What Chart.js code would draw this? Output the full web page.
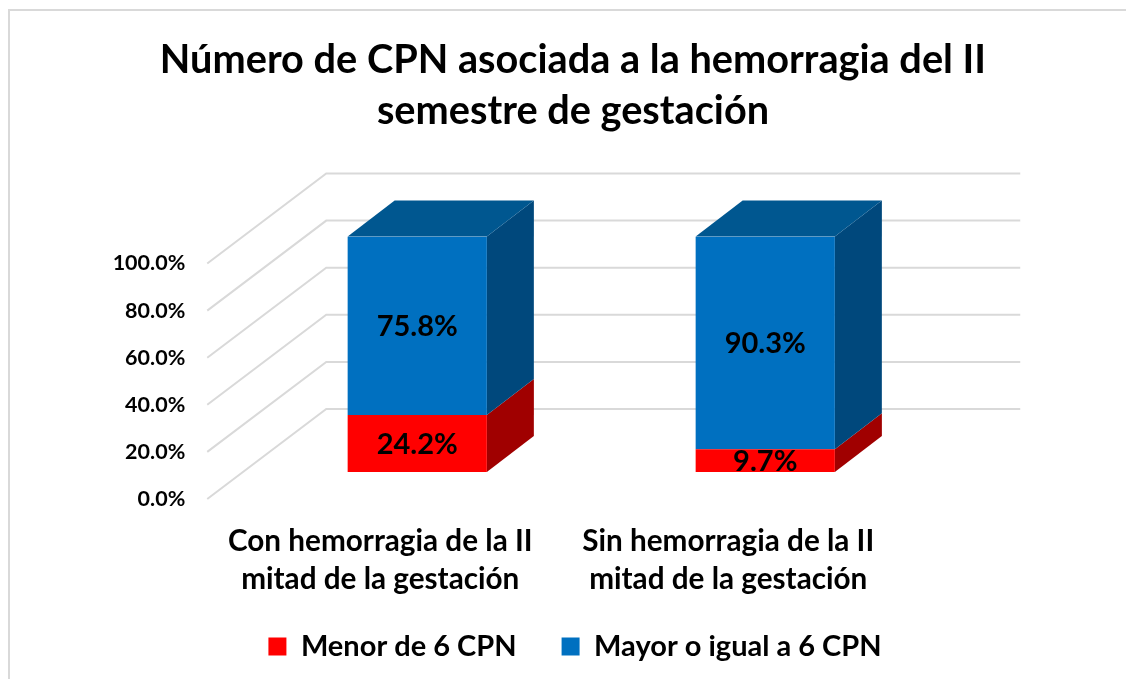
<!DOCTYPE html>
<html>
<head>
<meta charset="utf-8">
<script src="https://cdn.jsdelivr.net/npm/chart.js@4"></script>
<style>
  html, body { margin: 0; background: #fff; overflow: hidden; }
  #frame { position: absolute; left: 8px; top: 9px; right: -4px; bottom: -4px; border: 2px solid #d9d9d9; }
  #wrap { position: absolute; left: 0; top: 0; width: 1126px; height: 679px; }
</style>
</head>
<body>
<div id="frame"></div>
<div id="wrap"><canvas id="chart"></canvas></div>
<script>
// values
const categories = [
  ['Con hemorragia de la II', 'mitad de la gestación'],
  ['Sin hemorragia de la II', 'mitad de la gestación']
];
const menor = [24.2, 9.7];
const mayor = [75.8, 90.3];
const titleLines = ['Número de CPN asociada a la hemorragia del II', 'semestre de gestación'];

const FONT = 'Lato';
const GRID = '#d9d9d9';
// 3D look: how far the bars and the back wall are pushed
const BAR_DX = 47, BAR_DY = 36;
const WALL_DX = 83, WALL_DY = 63;
const FLOOR_DX = 36, FLOOR_DY = 27;

function fmt(v) { return v.toFixed(1) + '%'; }

const shade3d = {
  id: 'shade3d',
  afterLayout(chart) {
    // second line of the x labels runs past the axis box, and the legend sits a bit higher
    chart.scales.x.bottom += 20;
    chart.legend.top -= 8;
    chart.legend.bottom -= 8;
    chart.legend.left += 2;
    chart.legend.right += 2;
  },
  beforeDatasetsDraw(chart) {
    const { ctx, chartArea, scales } = chart;
    ctx.save();
    ctx.strokeStyle = GRID;
    ctx.lineWidth = 2;
    scales.y.ticks.forEach(t => {
      const y = scales.y.getPixelForValue(t.value);
      ctx.beginPath();
      ctx.moveTo(chartArea.left - FLOOR_DX, y + FLOOR_DY);
      ctx.lineTo(chartArea.left + WALL_DX, y - WALL_DY);
      ctx.lineTo(chartArea.right + WALL_DX - 2, y - WALL_DY);
      ctx.stroke();
    });
    ctx.restore();
    // sides and tops of the bars, under the front faces
    chart.data.datasets.forEach((ds, i) => {
      chart.getDatasetMeta(i).data.forEach(bar => {
        const r = bar.x + bar.width / 2, l = bar.x - bar.width / 2;
        ctx.fillStyle = ds.sideColor;
        ctx.beginPath();
        ctx.moveTo(r, bar.y);
        ctx.lineTo(r + BAR_DX, bar.y - BAR_DY);
        ctx.lineTo(r + BAR_DX, bar.base - BAR_DY);
        ctx.lineTo(r, bar.base);
        ctx.closePath();
        ctx.fill();
        if (ds.topColor) {
          ctx.fillStyle = ds.topColor;
          ctx.beginPath();
          ctx.moveTo(l, bar.y);
          ctx.lineTo(l + BAR_DX, bar.y - BAR_DY);
          ctx.lineTo(r + BAR_DX, bar.y - BAR_DY);
          ctx.lineTo(r, bar.y);
          ctx.closePath();
          ctx.fill();
        }
      });
    });
  },
  afterDatasetsDraw(chart) {
    const { ctx } = chart;
    ctx.save();
    ctx.fillStyle = '#000';
    ctx.font = 'bold 29px ' + FONT;
    ctx.textAlign = 'center';
    ctx.textBaseline = 'middle';
    chart.data.datasets.forEach((ds, i) => {
      chart.getDatasetMeta(i).data.forEach((bar, j) => {
        ctx.fillText(fmt(ds.data[j]), bar.x, (bar.y + bar.base) / 2 + 1);
      });
    });
    ctx.restore();
  }
};

new Chart(document.getElementById('chart'), {
  type: 'bar',
  data: {
    labels: categories,
    datasets: [
      { label: 'Menor de 6 CPN', data: menor, backgroundColor: '#ff0000', sideColor: '#a00000', barPercentage: 0.4, categoryPercentage: 1 },
      { label: 'Mayor o igual a 6 CPN', data: mayor, backgroundColor: '#0070c0', sideColor: '#00487c', topColor: '#005790', barPercentage: 0.4, categoryPercentage: 1 }
    ]
  },
  options: {
    responsive: true,
    maintainAspectRatio: false,
    animation: false,
    layout: { padding: { left: 20, right: 0, top: 0, bottom: 0 } },
    scales: {
      x: {
        stacked: true,
        grid: { display: false },
        border: { display: false },
        ticks: { color: '#000', font: { family: FONT, weight: 'bold', size: 29.7, lineHeight: 1.3 }, labelOffset: -37, padding: 42, maxRotation: 0 },
        afterFit(s) { s.height = 123; }
      },
      y: {
        stacked: true,
        min: 0,
        max: 100,
        grid: { display: false },
        border: { display: false },
        ticks: { stepSize: 20, color: '#000', font: { family: FONT, weight: 'bold', size: 21.5 }, labelOffset: 27, padding: 50, callback: v => fmt(v) },
        afterFit(s) { s.width = 223.25; }
      },
      // empty axis that only keeps the space right of the plot free
      spacer: {
        position: 'right',
        grid: { display: false },
        border: { display: false },
        ticks: { display: false },
        afterFit(s) { s.width = 186.75; }
      }
    },
    plugins: {
      tooltip: { enabled: false },
      title: {
        display: true,
        text: titleLines,
        color: '#000',
        font: { family: FONT, weight: 'bold', size: 39.7, lineHeight: 1.3 },
        padding: { top: 34, bottom: 99.3 }
      },
      legend: {
        position: 'bottom',
        labels: { color: '#000', font: { family: FONT, weight: 'bold', size: 29 }, boxWidth: 18, boxHeight: 18, padding: 45 }
      }
    }
  },
  plugins: [shade3d]
});
</script>
</body>
</html>
